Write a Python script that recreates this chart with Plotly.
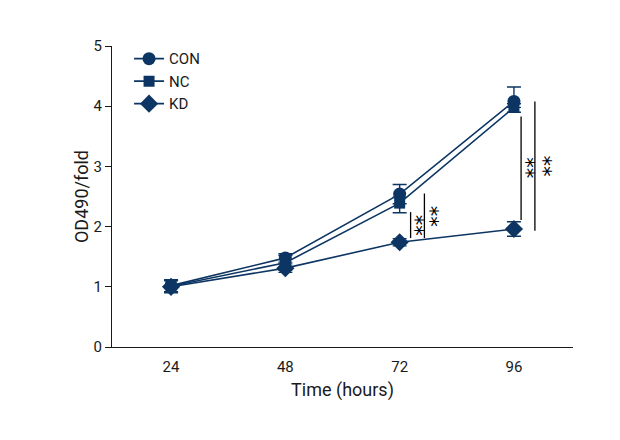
import plotly.graph_objects as go

time_h = [24, 48, 72, 96]
tick_labels = ["24", "48", "72", "96"]
con = [1.02, 1.48, 2.54, 4.08]
con_err_up = [0.10, 0.07, 0.16, 0.24]
con_err_dn = [0.10, 0.07, 0.16, 0.10]
nc = [1.01, 1.40, 2.39, 3.98]
nc_err_up = [0.10, 0.12, 0.10, 0.06]
nc_err_dn = [0.10, 0.12, 0.16, 0.08]
kd = [1.00, 1.31, 1.74, 1.96]
kd_err = [0.10, 0.07, 0.06, 0.12]

COLOR = "#0d3563"
FONT = "Roboto, Liberation Sans, sans-serif"

fig = go.Figure()

def add(name, y, eu, ed, symbol, size):
    fig.add_trace(go.Scatter(
        x=time_h, y=y, name=name, mode="lines+markers",
        line=dict(color=COLOR, width=1.6),
        marker=dict(symbol=symbol, size=size, color=COLOR),
        error_y=dict(type="data", array=eu, arrayminus=ed, symmetric=False,
                     color=COLOR, thickness=1.4, width=7),
    ))

add("CON", con, con_err_up, con_err_dn, "circle", 13)
add("NC", nc, nc_err_up, nc_err_dn, "square", 11)
add("KD", kd, kd_err, kd_err, "diamond", 14)

# significance brackets
def bracket(x, y0, y1, dx_text):
    fig.add_shape(type="line", x0=x, x1=x, y0=y0, y1=y1,
                  line=dict(color="black", width=1.3))
    fig.add_annotation(x=x + dx_text, y=(y0 + y1) / 2, text="**", textangle=90,
                       showarrow=False,
                       font=dict(size=21, color="black", family="DejaVu Sans"),
                       xanchor="center", yanchor="middle")

bracket(time_h[2] + 2.3, kd[2] + 0.07, nc[2] - 0.15, 1.0)
bracket(time_h[2] + 5.2, kd[2] + 0.07, con[2] + 0.01, 1.2)
bracket(time_h[3] + 1.5, kd[3] + 0.15, nc[3] - 0.15, 1.0)
bracket(time_h[3] + 4.4, kd[3] - 0.03, con[3] + 0.0, 1.6)

fig.update_layout(
    width=620, height=440,
    margin=dict(l=104, r=55, t=38, b=101),
    paper_bgcolor="white", plot_bgcolor="white",
    font=dict(family=FONT, size=15, color="#1a1a1a"),
    showlegend=True,
    legend=dict(x=0.037, y=1.012, xanchor="left", yanchor="top",
                bgcolor="rgba(0,0,0,0)", font=dict(size=15, color="#1a1a1a"),
                tracegroupgap=0, itemwidth=30),
    xaxis=dict(range=[11.6, 108.4], tickvals=time_h, ticktext=tick_labels,
               showgrid=False, zeroline=False, showline=True, linecolor="#1a1a1a",
               linewidth=1.3, ticks="", ticklabelstandoff=6,
               title=dict(text="Time (hours)", standoff=8)),
    yaxis=dict(range=[0, 5], tickvals=[0, 1, 2, 3, 4, 5], showgrid=False,
               zeroline=False, showline=True, linecolor="#1a1a1a", linewidth=1.3,
               ticks="outside", ticklen=6, tickcolor="#1a1a1a",
               title=dict(text="OD490/fold", standoff=0)),
)

fig.write_html("out.html")
